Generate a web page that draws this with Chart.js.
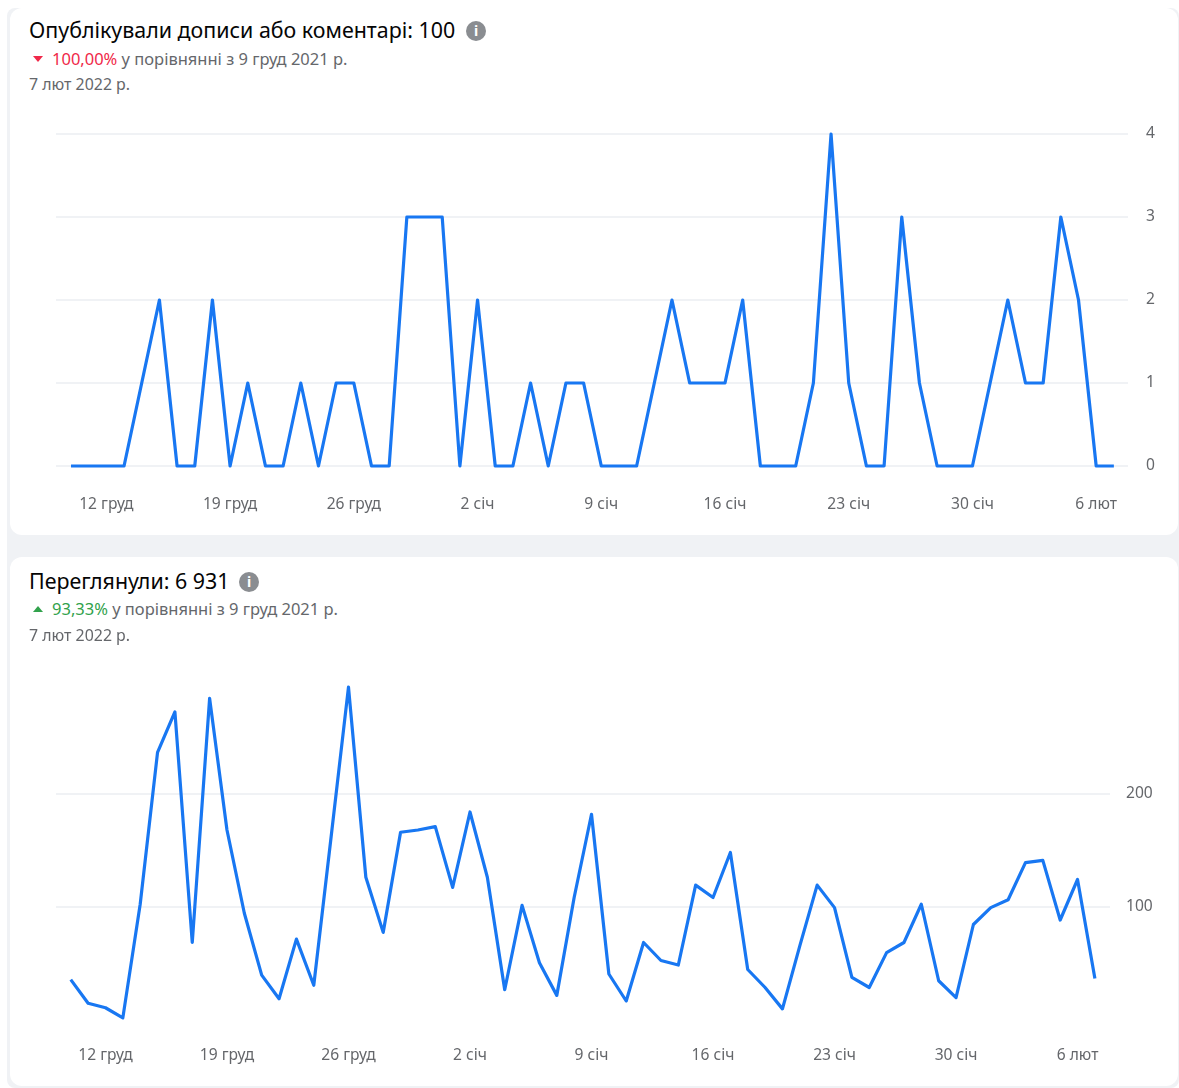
<!DOCTYPE html>
<html lang="uk"><head><meta charset="utf-8">
<script src="https://cdn.jsdelivr.net/npm/chart.js@4"></script>
<style>
html,body{margin:0;padding:0;background:#fff;width:1179px;height:1088px;overflow:hidden}
#wrap{position:absolute;left:0;top:0;width:1179px;height:1088px;filter:blur(.7px)}
#bg{position:absolute;left:7px;top:8px;width:1172px;height:1080px;background:#f0f2f5;border-radius:8px}
.card{position:absolute;left:10px;width:1168px;background:#fff;border-radius:12px}
.t{position:absolute;white-space:nowrap;font-family:"Noto Sans",sans-serif}
.h{left:29px;font-size:21.4px;color:#050505;line-height:24px}
.s{font-size:16.5px;color:#65676b;line-height:18px}
.d{font-size:15.9px;color:#65676b;line-height:18px}
.i{position:absolute;width:20px;height:20px;border-radius:50%;background:#8a8d91;color:#fff;font:bold 14px/20px "Noto Sans",sans-serif;text-align:center}
.down{position:absolute;left:33px;width:10px;height:6px;background:#f02849;clip-path:polygon(0 0,100% 0,50% 100%)}
.up{position:absolute;left:33px;width:10px;height:6px;background:#31a24c;clip-path:polygon(50% 0,100% 100%,0 100%)}
canvas{position:absolute;left:0}
</style></head><body>
<div id="wrap">
<div id="bg"></div>
<div class="card" style="top:8px;height:527px"></div>
<div class="card" style="top:557px;height:529px"></div>
<canvas id="c1" width="1179" height="430" style="top:100px;width:1179px;height:430px"></canvas>
<canvas id="c2" width="1179" height="440" style="top:640px;width:1179px;height:440px"></canvas>
<div class="t h" style="top:18px">Опублікували дописи або коментарі: 100</div>
<div class="i" style="left:466px;top:21px">i</div>
<div class="down" style="top:56px"></div>
<div class="t s" style="left:52px;top:50px"><span style="color:#f02849">100,00%</span> у порівнянні з 9 груд 2021 р.</div>
<div class="t d" style="left:29px;top:75px">7 лют 2022 р.</div>
<div class="t h" style="top:569px">Переглянули: 6 931</div>
<div class="i" style="left:239px;top:572px">i</div>
<div class="up" style="top:606px"></div>
<div class="t s" style="left:52px;top:600px"><span style="color:#31a24c">93,33%</span> у порівнянні з 9 груд 2021 р.</div>
<div class="t d" style="left:29px;top:626px">7 лют 2022 р.</div>
</div>
<script>
const tickIndices=[2,9,16,23,30,37,44,51,58];
const tickLabels=["12 груд","19 груд","26 груд","2 січ","9 січ","16 січ","23 січ","30 січ","6 лют"];
const postsValues=[0,0,0,0,1,2,0,0,2,0,1,0,0,1,0,1,1,0,0,3,3,3,0,2,0,0,1,0,1,1,0,0,0,1,2,1,1,1,2,0,0,0,1,4,1,0,0,3,1,0,0,0,1,2,1,1,3,2,0,0];
const viewsValues=[35,14,10,1,102,237,273,68,285,168,94,39,18,71,30,162,295,126,77,166,168,171,117,184,126,26,101,50,21,108,182,40,16,68,52,48,119,108,148,44,28,9,65,119,99,37,28,59,68,102,34,19,84,99,106,139,141,88,124,36];
const postsYTicks=[0,1,2,3,4];
const viewsYTicks=[100,200];
const lineColor="#1877f2",gridColor="#f0f2f5",tickColor="#65676b";
function make(id,vals,yTicks,yMax,cfg){
  new Chart(document.getElementById(id),{
    type:"line",
    data:{datasets:[{data:vals.map((v,i)=>({x:i,y:v})),borderColor:lineColor,borderWidth:3.2,pointRadius:0,tension:0,fill:false,clip:false,borderJoinStyle:"round"}]},
    options:{
      responsive:false,animation:false,events:[],
      layout:{padding:{left:56,top:cfg.top,right:0,bottom:0}},
      plugins:{legend:{display:false},tooltip:{enabled:false}},
      scales:{
        x:{type:"linear",min:cfg.xMin,max:cfg.xMax,
          afterBuildTicks:a=>{a.ticks=tickIndices.map(v=>({value:v}))},
          afterFit:a=>{a.height=cfg.bottom},
          grid:{display:false},border:{display:false},
          ticks:{autoSkip:false,maxRotation:0,minRotation:0,padding:cfg.xPad,color:tickColor,font:{family:"Noto Sans",size:15.6},
            callback:v=>tickLabels[tickIndices.indexOf(v)]}},
        y:{position:"right",min:0,max:yMax,
          afterBuildTicks:a=>{a.ticks=yTicks.map(v=>({value:v}))},
          afterFit:a=>{a.width=cfg.right},
          grid:{color:gridColor,lineWidth:2,drawTicks:false},border:{display:false},
          ticks:{padding:cfg.yPad,color:tickColor,font:{family:"Noto Sans",size:15.6},callback:v=>String(v)}}
      }
    }
  });
}
make("c1",postsValues,postsYTicks,4,{top:34,bottom:64,right:51,xMin:-0.85,xMax:59.8,xPad:21,yPad:18});
make("c2",viewsValues,viewsYTicks,300,{top:41.5,bottom:61,right:69,xMin:-0.85,xMax:59.87,xPad:19,yPad:16});
</script>
</body></html>
